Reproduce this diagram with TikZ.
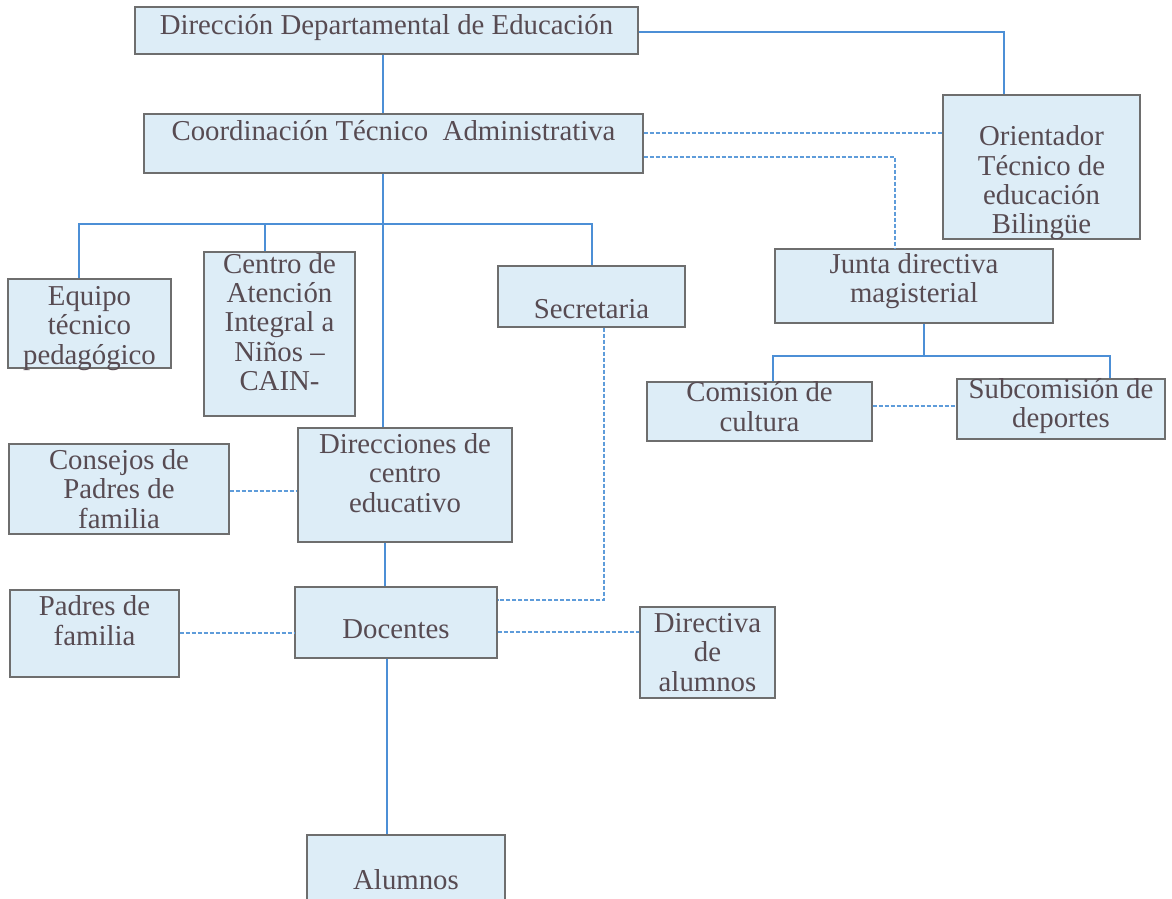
\documentclass[tikz,border=0pt]{standalone}
\usepackage{fontspec}
\setmainfont{Liberation Serif}
\definecolor{relleno}{HTML}{DDEDF7}
\definecolor{borde}{HTML}{6E6E6E}
\definecolor{letra}{HTML}{574B52}
\definecolor{azul}{HTML}{4C8FD6}
\definecolor{celeste}{HTML}{5E9CDA}

\begin{document}
\begin{tikzpicture}[x=1pt, y=-1pt,
        caja/.style={draw=borde, fill=relleno, line width=1.2pt, inner sep=0pt},
        texto/.style={align=center, text=letra, font=\fontsize{28.8}{29.3}\selectfont},
        linea/.style={draw=azul, line width=1.3pt},
        punteado/.style={draw=celeste, line width=1.2pt, dash pattern=on 4pt off 2pt}]
                \useasboundingbox (0,0) rectangle (1172,898);
                \clip (0,0) rectangle (1172,898);
                \fill[white] (0,0) rectangle (1172,898);
                % cajas
                \node[caja, minimum width=503pt, minimum height=47pt] (dde) at (386.5,30.5) {};
                \node[caja, minimum width=499pt, minimum height=59pt] (cta) at (393.5,143.5) {};
                \node[caja, minimum width=197pt, minimum height=144pt] (ori) at (1041.5,167) {};
                \node[caja, minimum width=163pt, minimum height=89pt] (equipo) at (89.5,323.5) {};
                \node[caja, minimum width=151pt, minimum height=164pt] (cain) at (279.5,334) {};
                \node[caja, minimum width=187pt, minimum height=61pt] (secretaria) at (591.5,296.5) {};
                \node[caja, minimum width=278pt, minimum height=74pt] (junta) at (914,286) {};
                \node[caja, minimum width=225pt, minimum height=59pt] (comision) at (759.5,411.5) {};
                \node[caja, minimum width=208pt, minimum height=60pt] (subcom) at (1061,409) {};
                \node[caja, minimum width=220pt, minimum height=90pt] (consejos) at (119,489) {};
                \node[caja, minimum width=214pt, minimum height=114pt] (direcciones) at (405,485) {};
                \node[caja, minimum width=169pt, minimum height=87pt] (padres) at (94.5,633.5) {};
                \node[caja, minimum width=202pt, minimum height=71pt] (docentes) at (396,622.5) {};
                \node[caja, minimum width=135pt, minimum height=91pt] (directiva) at (707.5,652.5) {};
                \node[caja, minimum width=198pt, minimum height=85pt] (alumnos) at (406,877.5) {};
                % textos
                \node[texto, yshift=3pt] (t-dde) at (dde) {Dirección Departamental de Educación};
                \node[texto, yshift=13pt] (t-cta) at (cta) {Coordinación Técnico~ Administrativa};
                \node[texto, yshift=-16pt] (t-ori) at (ori) {Orientador\\Técnico de\\educación\\Bilingüe};
                \node[texto, yshift=-5pt] (t-equipo) at (equipo) {Equipo\\técnico\\pedagógico};
                \node[texto, yshift=12pt] (t-cain) at (cain) {Centro de\\Atención\\Integral a\\Niños --\\CAIN-};
                \node[texto, yshift=-13pt] (t-secretaria) at (secretaria) {Secretaria};
                \node[texto, yshift=5pt] (t-junta) at (junta) {Junta directiva\\magisterial};
                \node[texto, yshift=5pt] (t-comision) at (comision) {Comisión de\\cultura};
                \node[texto, yshift=3pt] (t-subcom) at (subcom) {Subcomisión de\\deportes};
                \node[texto] (t-consejos) at (consejos) {Consejos de\\Padres de\\familia};
                \node[texto, yshift=12pt] (t-direcciones) at (direcciones) {Direcciones de\\centro\\educativo};
                \node[texto, yshift=13pt] (t-padres) at (padres) {Padres de\\familia};
                \node[texto, yshift=-7pt] (t-docentes) at (docentes) {Docentes};
                \node[texto] (t-directiva) at (directiva) {Directiva\\de\\alumnos};
                \node[texto] (t-alumnos) at (406,879.5) {Alumnos};
                % lineas continuas
                \coordinate (rama) at (383,224);
                \coordinate (ramaj) at (924,356);
                \draw[linea] (dde.south -| rama) -- (cta.north -| rama);
                \draw[linea] ([yshift=-1.5pt]dde.east) -| ([xshift=-37.5pt]ori.north);
                \draw[linea] (cta.south -| rama) -- (direcciones.north -| rama);
                \draw[linea] ([xshift=-10.5pt]equipo.north) |- (rama) -| ([xshift=0.5pt]secretaria.north);
                \draw[linea] ([xshift=-14.5pt]cain.north) -- ([xshift=-14.5pt]cain.north |- rama);
                \draw[linea] ([xshift=2pt]direcciones.south -| rama) -- ([xshift=2pt]docentes.north -| rama);
                \draw[linea] ([xshift=4pt]docentes.south -| rama) -- ([xshift=4pt]alumnos.north -| rama);
                \draw[linea] (junta.south -| ramaj) -- (ramaj);
                \draw[linea] ([xshift=13.5pt]comision.north) |- (ramaj) -| ([xshift=49pt]subcom.north);
                % lineas punteadas
                \draw[punteado] ([yshift=10.5pt]cta.east) -- ([yshift=10.5pt]cta.east -| ori.west);
                \draw[punteado] ([yshift=-13.5pt]cta.east) -| ([xshift=-19pt]junta.north);
                \draw[punteado] ([xshift=12.5pt]secretaria.south) |- ([yshift=22.5pt]docentes.east);
                \draw[punteado] ([yshift=-9.5pt]docentes.east) -- ([yshift=-9.5pt]docentes.east -| directiva.west);
                \draw[punteado] ([yshift=0.5pt]padres.east) -- ([yshift=0.5pt]padres.east -| docentes.west);
                \draw[punteado] ([yshift=-2pt]consejos.east) -- ([yshift=-2pt]consejos.east -| direcciones.west);
                \draw[punteado] ([yshift=5.5pt]comision.east) -- ([yshift=5.5pt]comision.east -| subcom.west);
\end{tikzpicture}
\end{document}
